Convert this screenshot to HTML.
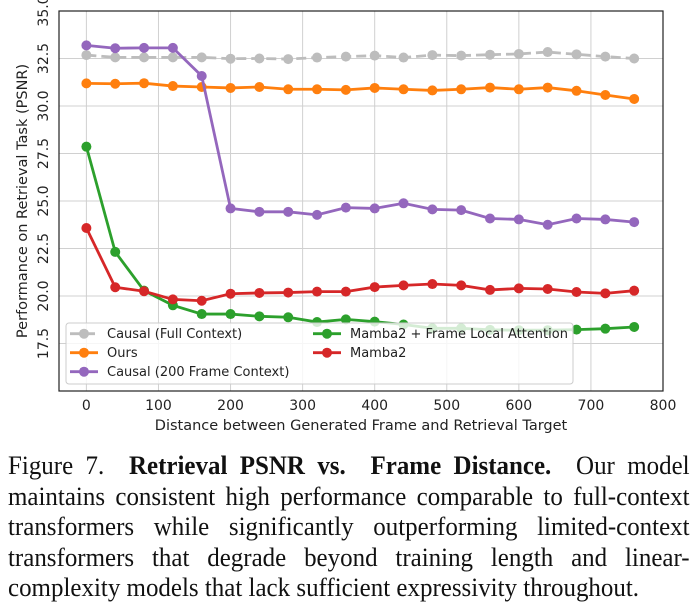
<!DOCTYPE html>
<html><head><meta charset="utf-8"><style>
body{margin:0;background:#fff;width:700px;height:616px;overflow:hidden}
#cap{position:absolute;left:8px;top:451px;width:710px;font-family:"Liberation Serif",serif;font-size:26px;line-height:30.6px;color:#111;transform:scaleX(0.96);transform-origin:0 0}
#cap div{text-align:justify;text-align-last:justify;white-space:nowrap}
#cap div.last{text-align-last:left}
</style></head><body>
<svg id="chart" width="700" height="445" style="position:absolute;left:0;top:0" font-family="DejaVu Sans, sans-serif"></svg>
<div id="cap">
<div>Figure 7.&nbsp; <b>Retrieval PSNR vs.&nbsp; Frame Distance.</b>&nbsp; Our model</div>
<div>maintains consistent high performance comparable to full-context</div>
<div>transformers while significantly outperforming limited-context</div>
<div>transformers that degrade beyond training length and linear-</div>
<div class="last">complexity models that lack sufficient expressivity throughout.</div>
</div>
<script>
const xs=[0,40,80,120,160,200,240,280,320,360,400,440,480,520,560,600,640,680,720,760];
const causalFull=[32.68,32.56,32.56,32.56,32.56,32.49,32.5,32.47,32.55,32.6,32.65,32.55,32.68,32.65,32.7,32.74,32.84,32.72,32.6,32.5];
const ours=[31.19,31.17,31.2,31.05,31.0,30.95,31.0,30.88,30.88,30.85,30.95,30.88,30.82,30.88,30.97,30.88,30.97,30.8,30.58,30.37];
const causal200=[33.19,33.04,33.06,33.06,31.58,24.61,24.43,24.43,24.27,24.65,24.61,24.88,24.56,24.52,24.08,24.03,23.75,24.08,24.03,23.89];
const mambaLocal=[27.86,22.32,20.28,19.51,19.05,19.05,18.93,18.88,18.63,18.77,18.65,18.5,18.3,18.3,18.22,18.2,18.2,18.23,18.28,18.37];
const mamba=[23.58,20.46,20.25,19.82,19.75,20.12,20.16,20.18,20.23,20.23,20.47,20.56,20.63,20.56,20.32,20.4,20.37,20.21,20.14,20.28];
const xTicks=[0,100,200,300,400,500,600,700,800];
const yTicks=[17.5,20.0,22.5,25.0,27.5,30.0,32.5,35.0];
const L=59,R=663,T=11,B=391,xMin=-38,xMax=800,yMin=15,yMax=35;
const X=v=>L+(v-xMin)/(xMax-xMin)*(R-L);
const Y=v=>B-(v-yMin)/(yMax-yMin)*(B-T);
const svg=document.getElementById('chart');const NS='http://www.w3.org/2000/svg';
function mk(t,a,p){const e=document.createElementNS(NS,t);for(const k in a)e.setAttribute(k,a[k]);(p||svg).appendChild(e);return e;}
xTicks.forEach(v=>{const g=mk('line',{x1:X(v),x2:X(v),y1:T,y2:B,stroke:'#d0d0d0','stroke-width':1});


const t=mk('text',{x:X(v),y:B+19,'text-anchor':'middle','font-size':14,fill:'#222'});t.textContent=v;

});
yTicks.forEach(v=>{const g=mk('line',{x1:L,x2:R,y1:Y(v),y2:Y(v),stroke:'#d0d0d0','stroke-width':1});


const t=mk('text',{x:0,y:0,'text-anchor':'middle','font-size':14,fill:'#222',transform:`translate(48,${Y(v)}) rotate(-90)`});t.textContent=v.toFixed(1);

});
const series=[[causalFull,'#bdbdbd',true,'causal-full-line'],[ours,'#ff7f0e',false,'ours-line'],[causal200,'#9467bd',false,'causal-200-line'],[mambaLocal,'#2ca02c',false,'mamba-local-line'],[mamba,'#d62728',false,'mamba-line']];
series.forEach(([d,c,dash,n])=>{const g=mk('g',{});


mk('polyline',{points:d.map((v,i)=>X(xs[i])+','+Y(v)).join(' '),fill:'none',stroke:c,'stroke-width':2.8,'stroke-dasharray':dash?'10,5':'none'},g);
d.forEach((v,i)=>mk('circle',{cx:X(xs[i]),cy:Y(v),r:5,fill:c},g));});
const lg=mk('g',{});


mk('rect',{x:66,y:323,width:507,height:61,rx:3,fill:'rgba(255,255,255,0.8)',stroke:'#ccc'},lg);
const ent=[['Causal (Full Context)','#bdbdbd',true,70,333.7],['Ours','#ff7f0e',false,70,352.7],['Causal (200 Frame Context)','#9467bd',false,70,371.7],['Mamba2 + Frame Local Attention','#2ca02c',false,313,333.7],['Mamba2','#d62728',false,313,352.7]];
ent.forEach(([t,c,dash,x,y])=>{const g=mk('g',{},lg);


mk('line',{x1:x,x2:x+28,y1:y,y2:y,stroke:c,'stroke-width':2.8,'stroke-dasharray':dash?'10,5':'none'},g);
mk('circle',{cx:x+14,cy:y,r:5,fill:c},g);
const tx=mk('text',{x:x+37,y:y+4.5,'font-size':13,fill:'#222'},g);tx.textContent=t;});
const fr=mk('rect',{x:L,y:T,width:R-L,height:B-T,fill:'none',stroke:'#222','stroke-width':1.2});


const xl=mk('text',{x:361,y:430,'text-anchor':'middle','font-size':14.5,fill:'#222'});xl.textContent='Distance between Generated Frame and Retrieval Target';


const yl=mk('text',{x:0,y:0,'text-anchor':'middle','font-size':14.5,fill:'#222',transform:'translate(27,201) rotate(-90)'});yl.textContent='Performance on Retrieval Task (PSNR)';


</script>
</body></html>
